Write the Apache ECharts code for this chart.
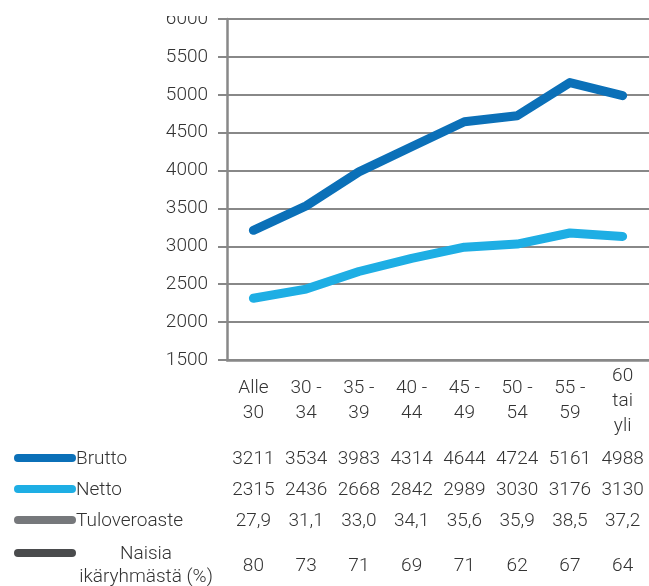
<!DOCTYPE html>
<html><head><meta charset="utf-8">
<script src="https://cdn.jsdelivr.net/npm/echarts@6/dist/echarts.min.js"></script>
<style>html,body{margin:0;padding:0;background:#fff}#c{width:649px;height:586px}</style>
</head><body><div id="c"></div>
<script>
const categories = ['Alle\n30', '30 -\n34', '35 -\n39', '40 -\n44', '45 -\n49', '50 -\n54', '55 -\n59', '60\ntai\nyli'];
const brutto = [3211, 3534, 3983, 4314, 4644, 4724, 5161, 4988];
const netto = [2315, 2436, 2668, 2842, 2989, 3030, 3176, 3130];
const tuloveroaste = [27.9, 31.1, 33.0, 34.1, 35.6, 35.9, 38.5, 37.2];
const naisia = [80, 73, 71, 69, 71, 62, 67, 64];
const rowNames = ['Brutto', 'Netto', 'Tuloveroaste', 'Naisia\nikäryhmästä (%)'];
const yTicks = {min: 1500, max: 6000, interval: 500};

const FONT = 'Roboto';
const FW = 300;
const FS = 19;
const TXT = '#333333';
const GRAY = '#888888';
const colors = ['#0b70b8', '#1eaee4', '#76787b', '#4a4b4d'];

const chart = echarts.init(document.getElementById('c'));
function rowAxis(data, margin) {
  return {
    type: 'category', gridIndex: 0, position: 'bottom', data: data,
    axisLine: {show: false}, axisTick: {show: false}, splitLine: {show: false},
    axisLabel: {interval: 0, margin: margin, verticalAlign: 'middle', color: TXT, fontFamily: FONT, fontWeight: FW, fontSize: FS}
  };
}
const keyY = [458, 489, 520, 553];
const graphics = [];
keyY.forEach((y, i) => {
  graphics.push({type: 'line', shape: {x1: 18, y1: y, x2: 72, y2: y},
    style: {stroke: colors[i], lineWidth: 8, lineCap: 'round'}});
});
const fontStr = FW + ' ' + FS + 'px ' + FONT;
graphics.push({type: 'text', x: 76, y: 459, style: {text: rowNames[0], fill: TXT, font: fontStr, verticalAlign: 'middle'}});
graphics.push({type: 'text', x: 76, y: 490, style: {text: rowNames[1], fill: TXT, font: fontStr, verticalAlign: 'middle'}});
graphics.push({type: 'text', x: 76, y: 521, style: {text: rowNames[2], fill: TXT, font: fontStr, verticalAlign: 'middle'}});
graphics.push({type: 'text', x: 146, y: 566, style: {text: rowNames[3], fill: TXT, font: fontStr, align: 'center', verticalAlign: 'middle', lineHeight: 23}});
graphics.push({type: 'rect', shape: {x: 140, y: 0, width: 80, height: 16}, style: {fill: '#fff'}, z: 100});

chart.setOption({
  animation: false,
  grid: {left: 227, right: 0, top: 19, bottom: 226, containLabel: false},
  xAxis: [
    {
      type: 'category', data: categories, boundaryGap: true,
      axisLine: {show: true, lineStyle: {color: GRAY, width: 2.5}},
      axisTick: {show: false},
      axisLabel: {interval: 0, margin: 41, verticalAlign: 'middle', color: TXT, fontFamily: FONT, fontWeight: FW, fontSize: FS, lineHeight: 25}
    },
    rowAxis(brutto.map(String), 99),
    rowAxis(netto.map(String), 130),
    rowAxis(tuloveroaste.map(v => v.toFixed(1).replace('.', ',')), 161),
    rowAxis(naisia.map(String), 206)
  ],
  yAxis: {
    type: 'value', min: yTicks.min, max: yTicks.max, interval: yTicks.interval,
    axisLine: {show: true, lineStyle: {color: GRAY, width: 2.5}},
    axisTick: {show: true, length: 9, lineStyle: {color: GRAY, width: 2}},
    splitLine: {show: true, lineStyle: {color: GRAY, width: 2}},
    axisLabel: {margin: 19, color: TXT, fontFamily: FONT, fontWeight: FW, fontSize: FS, formatter: v => String(v)}
  },
  series: [
    {name: 'Brutto', type: 'line', data: brutto, symbol: 'none', lineStyle: {color: colors[0], width: 9, cap: 'round', join: 'round'}, z: 3},
    {name: 'Netto', type: 'line', data: netto, symbol: 'none', lineStyle: {color: colors[1], width: 9, cap: 'round', join: 'round'}, z: 3}
  ],
  graphic: graphics
});
</script></body></html>
